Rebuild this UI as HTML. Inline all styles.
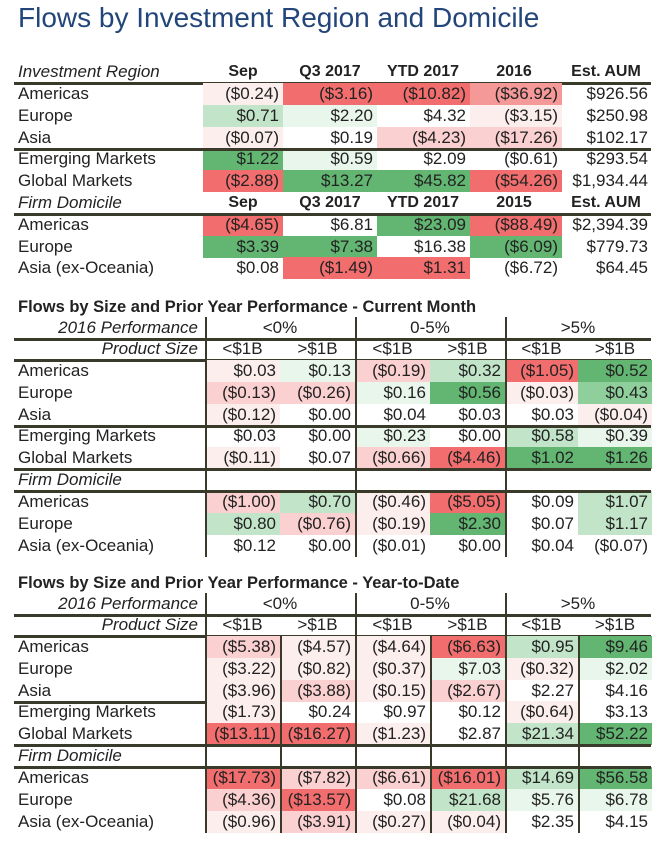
<!DOCTYPE html>
<html><head><meta charset="utf-8"><style>
body{margin:0;width:669px;height:841px;background:#fff;position:relative;overflow:hidden;font-family:"Liberation Sans Narrow","Liberation Sans",sans-serif;color:#222;}
.a{position:absolute;white-space:nowrap;}
.t{font-size:17px;line-height:22px;}
.hl{position:absolute;background:#3a3a2a;}
.c{position:absolute;height:22px;font-size:17px;line-height:22px;text-align:right;box-sizing:border-box;padding-right:4px;}
.i{font-style:italic;}
.b{font-weight:bold;font-family:"Liberation Sans",sans-serif;}
</style></head><body>
<div class="a" style="left:18px;top:2px;font-size:28px;color:#23467a;font-family:'Liberation Sans',sans-serif;">Flows by Investment Region and Domicile</div>
<div id="root"></div>
<script>
const col={R:'#f26d6d',r:'#f59898',p:'#fbd0d0',q:'#fdeeee',G:'#62b672',g:'#8fcf9c',l:'#c2e5c9',m:'#e9f6ec',w:'transparent'};
let h='';
function txt(x,y,s,cls,st){h+=`<div class="a t ${cls||''}" style="left:${x}px;top:${y-11}px;${st||''}">${s}</div>`;}
function rt(r,y,s,cls){h+=`<div class="a t ${cls||''}" style="right:${669-r}px;top:${y-11}px;">${s}</div>`;}
function ln(x,y,w,hh){h+=`<div class="hl" style="left:${x}px;top:${y}px;width:${w}px;height:${hh}px"></div>`;}
function cell(x,w,y,s,c){h+=`<div class="c" style="left:${x}px;width:${w}px;top:${y-11}px;background:${col[c]}">${s}</div>`;}
// Table 1
const c1=[[203,80],[283,94],[377,93],[470,92],[562,90]];
const hdr1=['Sep','Q3 2017','YTD 2017','2016','Est. AUM'];
const hc=[243,330,423,514,606];
txt(18,72,'Investment Region','i');
hdr1.forEach((s,i)=>h+=`<div class="a t b" style="left:${hc[i]-60}px;width:120px;text-align:center;top:61px;font-size:16px">${s}</div>`);
ln(14,82,637,3);
const t1=[
['Americas',94,['($0.24)','($3.16)','($10.82)','($36.92)','$926.56'],'qRRrw'],
['Europe',116,['$0.71','$2.20','$4.32','($3.15)','$250.98'],'lmwqw'],
['Asia',138,['($0.07)','$0.19','($4.23)','($17.26)','$102.17'],'qwppw'],
['Emerging Markets',159,['$1.22','$0.59','$2.09','($0.61)','$293.54'],'Gmwww'],
['Global Markets',181,['($2.88)','$13.27','$45.82','($54.26)','$1,934.44'],'RGGRw'],
['Americas',225,['($4.65)','$6.81','$23.09','($88.49)','$2,394.39'],'RwGRw'],
['Europe',247,['$3.39','$7.38','$16.38','($6.09)','$779.73'],'GGwGw'],
['Asia (ex-Oceania)',268,['$0.08','($1.49)','$1.31','($6.72)','$64.45'],'wRRww']];
t1.forEach(r=>{txt(18,r[1],r[0]);r[2].forEach((s,i)=>cell(c1[i][0],c1[i][1],r[1],s,r[3][i]));});
ln(14,148,637,3);
txt(18,203,'Firm Domicile','i');
const hdr1b=['Sep','Q3 2017','YTD 2017','2015','Est. AUM'];
hdr1b.forEach((s,i)=>h+=`<div class="a t b" style="left:${hc[i]-60}px;width:120px;text-align:center;top:192px;font-size:16px">${s}</div>`);
ln(14,213,637,3);
// tables 2/3
const cx=[[205,75],[280,75],[355,75],[430,75],[505,73],[578,74]];
function t23(top,title,rows,vfull){
 h+=`<div class="a b" style="left:18px;top:${top-11}px;font-size:16.5px;line-height:22px;color:#222">${title}</div>`;
 const y0=top+21;
 rt(198,y0,'2016 Performance','i');
 [['&lt;0%',280],['0-5%',430],['&gt;5%',578]].forEach(a=>h+=`<div class="a t" style="left:${a[1]-40}px;width:80px;text-align:center;top:${y0-11}px">${a[0]}</div>`);
 ln(14,y0+10,637,3);
 const y1=y0+21;
 rt(198,y1,'Product Size','i');
 ['&lt;$1B','&gt;$1B','&lt;$1B','&gt;$1B','&lt;$1B','&gt;$1B'].forEach((s,i)=>h+=`<div class="a t" style="left:${cx[i][0]}px;width:${cx[i][1]}px;text-align:center;top:${y1-11}px">${s}</div>`);
 ln(14,y1+10,637,3);
 const ys=[y1+22,y1+44,y1+66,y1+87,y1+109,y1+131,y1+153,y1+175,y1+197];
 rows.forEach((r,k)=>{const y=ys[k];txt(18,y,r[0],r[1]?'':'i');if(r[1])r[1].forEach((s,i)=>cell(cx[i][0],cx[i][1],y,s,r[2][i]));});
 ln(14,ys[2]+10,vfull?191:637,3);
 ln(14,ys[4]+10,637,3);
 ln(14,ys[5]+10,637,3);
 const vs=vfull?[205,280,355,430,505,578]:[205,355,505];
 vs.forEach(x=>{const t=(x==205||x==355||x==505)?top+10:y1+11;ln(x,t,2,ys[8]+11-t);});
}
t23(307,'Flows by Size and Prior Year Performance - Current Month',[
['Americas',['$0.03','$0.13','($0.19)','$0.32','($1.05)','$0.52'],'qmplRG'],
['Europe',['($0.13)','($0.26)','$0.16','$0.56','($0.03)','$0.43'],'ppmGqg'],
['Asia',['($0.12)','$0.00','$0.04','$0.03','$0.03','($0.04)'],'qwwwwq'],
['Emerging Markets',['$0.03','$0.00','$0.23','$0.00','$0.58','$0.39'],'wwmwlm'],
['Global Markets',['($0.11)','$0.07','($0.66)','($4.46)','$1.02','$1.26'],'qwpRGG'],
['Firm Domicile'],
['Americas',['($1.00)','$0.70','($0.46)','($5.05)','$0.09','$1.07'],'plqRwl'],
['Europe',['$0.80','($0.76)','($0.19)','$2.30','$0.07','$1.17'],'lpqGwl'],
['Asia (ex-Oceania)',['$0.12','$0.00','($0.01)','$0.00','$0.04','($0.07)'],'wwwwww']],false);
t23(583,'Flows by Size and Prior Year Performance - Year-to-Date',[
['Americas',['($5.38)','($4.57)','($4.64)','($6.63)','$0.95','$9.46'],'pqqRlG'],
['Europe',['($3.22)','($0.82)','($0.37)','$7.03','($0.32)','$2.02'],'qqqmqm'],
['Asia',['($3.96)','($3.88)','($0.15)','($2.67)','$2.27','$4.16'],'qpqpww'],
['Emerging Markets',['($1.73)','$0.24','$0.97','$0.12','($0.64)','$3.13'],'qwwwqw'],
['Global Markets',['($13.11)','($16.27)','($1.23)','$2.87','$21.34','$52.22'],'RRqwlG'],
['Firm Domicile'],
['Americas',['($17.73)','($7.82)','($6.61)','($16.01)','$14.69','$56.58'],'RppRlG'],
['Europe',['($4.36)','($13.57)','$0.08','$21.68','$5.76','$6.78'],'pRwlmm'],
['Asia (ex-Oceania)',['($0.96)','($3.91)','($0.27)','($0.04)','$2.35','$4.15'],'qpqqww']],true);
document.getElementById('root').innerHTML=h;
</script>
</body></html>
